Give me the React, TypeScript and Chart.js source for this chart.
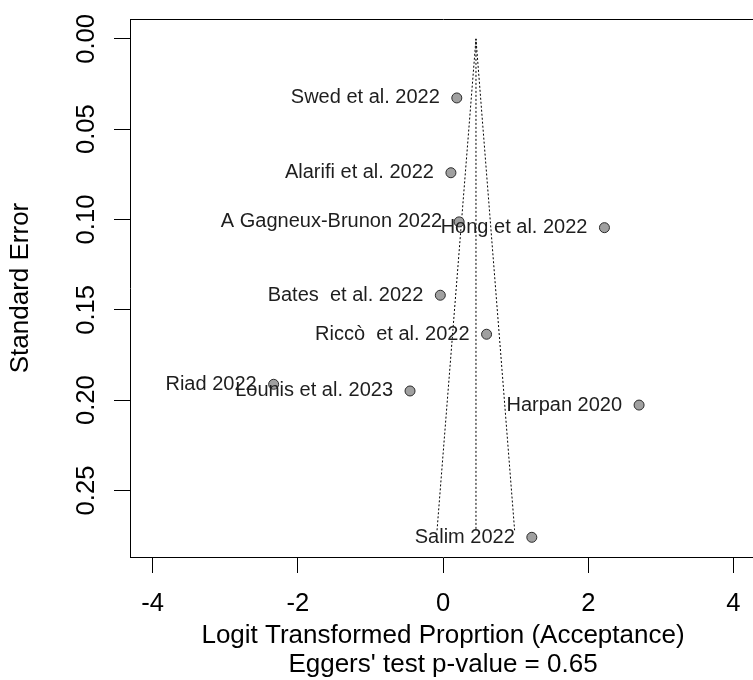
import React, { useEffect, useRef } from "react";
import { Chart, registerables } from "chart.js";

Chart.register(...registerables);

const studyLabels = [
  "Swed et al. 2022",
  "Alarifi et al. 2022",
  "A Gagneux-Brunon 2022",
  "Hong et al. 2022",
  "Bates  et al. 2022",
  "Riccò  et al. 2022",
  "Riad 2022",
  "Lounis et al. 2023",
  "Harpan 2020",
  "Salim 2022",
];
const logitValues = [0.19, 0.109, 0.222, 2.223, -0.037, 0.6, -2.332, -0.454, 2.7, 1.223];
const standardErrors = [0.0327, 0.0741, 0.1013, 0.1045, 0.1419, 0.1635, 0.1912, 0.1949, 0.2027, 0.2759];

const funnelBoundX = [-0.082, 0.454, 0.986];
const funnelBoundSE = [0.272, 0, 0.272];
const centerLineX = [0.454, 0.454];
const centerLineSE = [0, 0.272];

const xTickValues = [-4, -2, 0, 2, 4];
const yTickValues = [0, 0.05, 0.1, 0.15, 0.2, 0.25];
const xRange = [-4.31, 4.31];
const yRange = [-0.011, 0.2868];

const xTitle = ["Logit Transformed Proprtion (Acceptance)", "Eggers' test p-value = 0.65"];
const yTitle = "Standard Error";

const FONT = "'Liberation Sans', Arial, Helvetica, sans-serif";

export default function App() {
  const ref = useRef<HTMLCanvasElement | null>(null);

  useEffect(() => {
    const canvas = ref.current;
    if (!canvas) return;

    const labelPlugin = {
      id: "pointLabels",
      afterDatasetsDraw(chart: any) {
        const meta = chart.getDatasetMeta(0);
        const ctx = chart.ctx;
        ctx.save();
        ctx.font = `20px ${FONT}`;
        ctx.fillStyle = "#1e1e1e";
        ctx.textAlign = "right";
        ctx.textBaseline = "middle";
        meta.data.forEach((el: any, i: number) => {
          ctx.fillText(studyLabels[i], el.x - 17, el.y);
        });
        ctx.restore();
      },
    };

    const boxPlugin = {
      id: "boxEdges",
      afterDraw(chart: any) {
        const { ctx, chartArea } = chart;
        ctx.save();
        ctx.strokeStyle = "#000";
        ctx.lineWidth = 1;
        ctx.beginPath();
        ctx.moveTo(Math.round(chartArea.left) + 0.5, Math.round(chartArea.top) + 0.5);
        ctx.lineTo(Math.round(chartArea.right) + 0.5, Math.round(chartArea.top) + 0.5);
        ctx.lineTo(Math.round(chartArea.right) + 0.5, Math.round(chartArea.bottom) + 0.5);
        ctx.stroke();
        ctx.restore();
      },
    };

    const chart = new Chart(canvas, {
      type: "scatter",
      data: {
        datasets: [
          {
            data: logitValues.map((x, i) => ({ x, y: standardErrors[i] })),
            backgroundColor: "#a0a0a0",
            borderColor: "#2a2a2a",
            borderWidth: 1,
            pointRadius: 5,
            order: 0,
          },
          {
            data: funnelBoundX.map((x, i) => ({ x, y: funnelBoundSE[i] })),
            showLine: true,
            borderColor: "#000",
            borderWidth: 1,
            borderDash: [2, 2],
            pointRadius: 0,
            fill: false,
            order: 1,
          },
          {
            data: centerLineX.map((x, i) => ({ x, y: centerLineSE[i] })),
            showLine: true,
            borderColor: "#000",
            borderWidth: 1,
            borderDash: [2, 2],
            pointRadius: 0,
            fill: false,
            order: 2,
          },
        ],
      },
      options: {
        animation: false,
        responsive: false,
        devicePixelRatio: 1,
        layout: { padding: { top: 19, left: 0, right: 0, bottom: 0 } },
        plugins: { legend: { display: false }, tooltip: { enabled: false } },
        scales: {
          x: {
            type: "linear",
            position: "bottom",
            min: xRange[0],
            max: xRange[1],
            afterBuildTicks: (axis: any) => {
              axis.ticks = xTickValues.map((v) => ({ value: v }));
            },
            afterFit: (axis: any) => {
              axis.height = 123;
              axis.paddingLeft = 0;
              axis.paddingRight = 0;
            },
            grid: {
              drawOnChartArea: false,
              drawTicks: true,
              tickLength: 16,
              color: "#000",
              lineWidth: 1,
            },
            border: { display: true, color: "#000", width: 1 },
            ticks: {
              color: "#000",
              padding: 16,
              maxRotation: 0,
              minRotation: 0,
              font: { family: FONT, size: 25.6 },
              callback: (v: any) => String(v),
            },
            title: {
              display: true,
              text: xTitle,
              color: "#000",
              font: { family: FONT, size: 26, lineHeight: 1.13 },
              padding: { top: 0, bottom: 0 },
            },
          },
          y: {
            type: "linear",
            position: "left",
            reverse: true,
            min: yRange[0],
            max: yRange[1],
            afterBuildTicks: (axis: any) => {
              axis.ticks = yTickValues.map((v) => ({ value: v }));
            },
            afterFit: (axis: any) => {
              axis.width = 130;
              axis.paddingTop = 0;
              axis.paddingBottom = 0;
            },
            grid: {
              drawOnChartArea: false,
              drawTicks: true,
              tickLength: 16,
              color: "#000",
              lineWidth: 1,
            },
            border: { display: true, color: "#000", width: 1 },
            ticks: {
              color: "#000",
              padding: 2.4,
              minRotation: 90,
              maxRotation: 90,
              crossAlign: "center",
              font: { family: FONT, size: 25.6 },
              callback: (v: any) => Number(v).toFixed(2),
            },
            title: {
              display: true,
              text: yTitle,
              color: "#000",
              font: { family: FONT, size: 26, lineHeight: 1.13 },
              padding: { top: 6, bottom: 0 },
            },
          },
        },
      },
      plugins: [labelPlugin, boxPlugin],
    } as any);

    return () => chart.destroy();
  }, []);

  return (
    <div
      style={{
        position: "absolute",
        left: 0,
        top: 0,
        width: 753,
        height: 680,
        overflow: "hidden",
        background: "#fff",
      }}
    >
      <canvas ref={ref} width={762} height={680} style={{ width: 762, height: 680, display: "block" }} />
    </div>
  );
}
